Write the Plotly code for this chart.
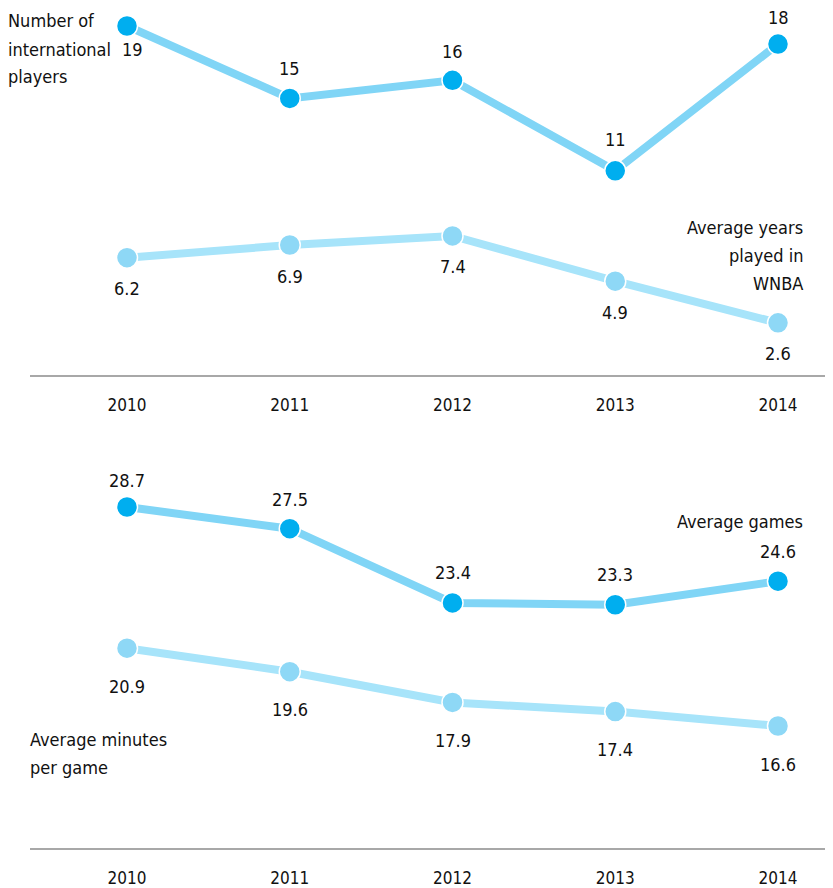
import plotly.graph_objects as go

years = [2010, 2011, 2012, 2013, 2014]
intl_players = [19, 15, 16, 11, 18]
avg_years = [6.2, 6.9, 7.4, 4.9, 2.6]
avg_games = [28.7, 27.5, 23.4, 23.3, 24.6]
avg_minutes = [20.9, 19.6, 17.9, 17.4, 16.6]
tick_labels = ["2010", "2011", "2012", "2013", "2014"]

OFF = 8  # page body margin
W, H = 833 - OFF, 888 - OFF
FONT = "DejaVu Sans Condensed, Liberation Sans Narrow, Roboto, sans-serif"
DARK_LINE = "#80D5F6"
DARK_MARK = "#00AEEF"
LIGHT_LINE = "#A7E4FA"
LIGHT_MARK = "#8ED8F6"


def X(px):
    return px - OFF


def Y(px):
    return px - OFF


fig = go.Figure()


def series(x, y, line, mark, shifts, xa, ya, xshifts=None):
    fig.add_trace(go.Scatter(
        x=x, y=y, mode="lines+markers",
        line=dict(color=line, width=8),
        marker=dict(color=mark, size=21, line=dict(color="white", width=1.5)),
        xaxis=xa, yaxis=ya, hoverinfo="skip", cliponaxis=False,
    ))
    xshifts = xshifts or [0] * len(x)
    for xv, yv, sh, xs in zip(x, y, shifts, xshifts):
        fig.add_annotation(x=xv, y=yv, xref=xa, yref=ya.replace("axis", ""),
                           text=str(yv), showarrow=False, yshift=sh, xshift=xs,
                           xanchor="center", yanchor="middle", borderpad=0,
                           font=dict(family=FONT, size=18, color="#111"))


series(years, intl_players, DARK_LINE, DARK_MARK, [-23, 30, 29, 31, 27], "x", "y",
       xshifts=[5, 0, 0, 0, 0])
series(years, avg_years, LIGHT_LINE, LIGHT_MARK, [-31] * 5, "x", "y")
series(years, avg_games, DARK_LINE, DARK_MARK, [27, 29, 30, 30, 30], "x2", "y2")
series(years, avg_minutes, LIGHT_LINE, LIGHT_MARK, [-38] * 5, "x2", "y2")

px_per_year = (778 - 127) / 4
xr = [2010 - (127 - 30) / px_per_year, 2014 + (833 - 778) / px_per_year]
xdom = [X(30) / W, 1]
s = 18.1  # px per unit
top_range = [19 - (375 - 26) / s, 19 + (26 - OFF) / s]
bot_range = [28.7 - (848 - 507) / s, 28.7 + (507 - 440) / s]

xcommon = dict(range=xr, domain=xdom, showgrid=False, zeroline=False,
               tickmode="array", tickvals=years, ticktext=tick_labels,
               ticks="outside", ticklen=14, tickcolor="rgba(0,0,0,0)",
               tickfont=dict(family=FONT, size=17, color="#111"),
               showline=True, linecolor="#A8A8A8", linewidth=1.5)
fig.update_layout(
    width=W, height=H, margin=dict(l=0, r=0, t=0, b=0),
    paper_bgcolor="white", plot_bgcolor="white", showlegend=False,
    xaxis=dict(anchor="y", **xcommon),
    yaxis=dict(range=top_range, domain=[1 - Y(375) / H, 1], visible=False),
    xaxis2=dict(anchor="y2", **xcommon),
    yaxis2=dict(range=bot_range, domain=[1 - Y(848) / H, 1 - Y(440) / H], visible=False),
)


def label(lines, x, y_first, align, step=28):
    for i, t in enumerate(lines):
        fig.add_annotation(text=t, xref="paper", yref="paper",
                           x=X(x) / W, y=1 - Y(y_first + i * step) / H, showarrow=False,
                           xanchor=align, yanchor="middle", align=align, borderpad=0,
                           font=dict(family=FONT, size=18, color="#111"))


label(["Number of", "international", "players"], 7, 21, "left")
label(["Average years", "played in", "WNBA"], 804, 227, "right")
label(["Average games"], 804, 521, "right")
label(["Average minutes", "per game"], 29, 739, "left")

fig.write_html("out.html")
